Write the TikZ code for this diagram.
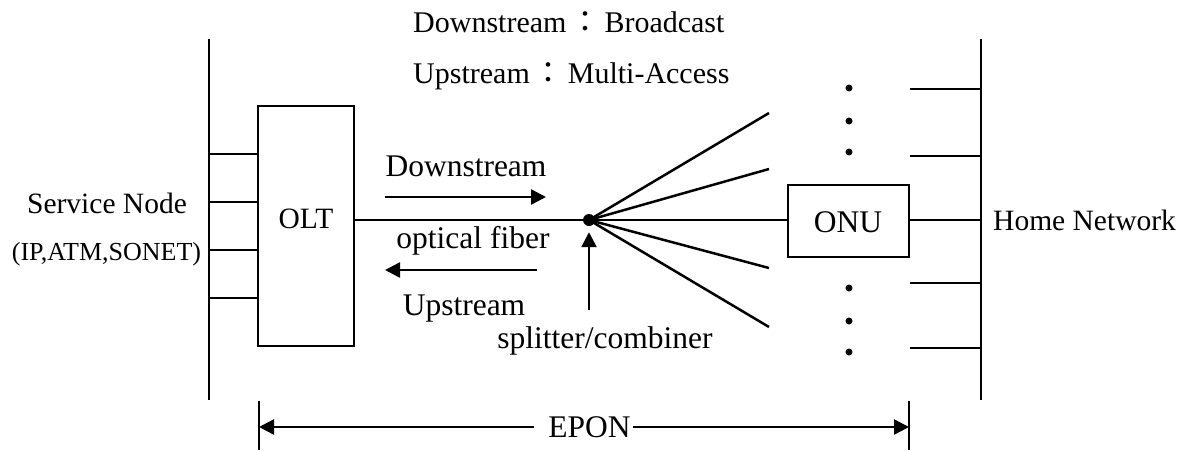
\documentclass[tikz,border=0pt]{standalone}
\usepackage{fontspec}
\setmainfont{Liberation Serif}
\newfontfamily\cjk{Noto Sans CJK TC}
\usetikzlibrary{arrows.meta}
\begin{document}
\begin{tikzpicture}[x=1pt,y=-1pt,
  wire/.style={line width=2.5pt},
  boxline/.style={draw,line width=2.2pt,inner sep=0pt},
  lbl/.style={font=\fontsize{31.5}{36}\selectfont,inner sep=0pt,anchor=base},
  mid/.style={font=\fontsize{29.5}{34}\selectfont,inner sep=0pt,anchor=base},
  small/.style={font=\fontsize{26}{30}\selectfont,inner sep=0pt,anchor=base},
  toplbl/.style={font=\fontsize{30}{34}\selectfont,inner sep=0pt,anchor=base west},
  tip/.style={-{Triangle[length=15pt,width=15pt]}},
  dot/.style={circle,fill,inner sep=0pt,minimum size=7pt}]
\useasboundingbox (0,0) rectangle (1185,450);

% top labels
\node[toplbl] (t1) at (413,32) {Downstream\kern4pt{\cjk ：}\kern4ptBroadcast};
\node[toplbl] (t2) at (413,83) {Upstream\kern4pt{\cjk ：}\kern4ptMulti-Access};

% left bus
\coordinate (lt) at (209,39);
\coordinate (lb) at (209,400);
\draw[wire] (lt) -- (lb);

% OLT
\node[boxline,minimum width=96pt,minimum height=240pt] (olt) at (306,226) {};
\node[mid] (oltt) at (306,228) {OLT};
\foreach \y [count=\i] in {154,202,250,298}{
  \coordinate (ls\i) at (209,\y);
  \draw[wire] (ls\i) -- (olt.west |- ls\i);
}
\node[mid] (sn) at (107,213) {Service Node};
\node[small] (snp) at (106.5,260) {(IP,ATM,SONET)};

% splitter
\node[circle,fill,inner sep=0pt,minimum size=12pt] (spl) at (589,220) {};
\draw[wire] (olt.east |- spl) -- (spl.center);

% ONU
\node[boxline,minimum width=121pt,minimum height=72pt] (onu) at (848.5,221) {};
\node[lbl] (onut) at (848,232) {ONU};
\draw[wire] (spl.center) -- (onu.west |- spl);

% fan
\coordinate (f1) at (769,113);
\coordinate (f2) at (769,169);
\coordinate (f3) at (769,268);
\coordinate (f4) at (769,327);
\foreach \f in {f1,f2,f3,f4}{ \draw[wire] (spl.center) -- (\f); }

% dots
\foreach \y [count=\i] in {88,121,152,288,321,352}{ \node[dot] (d\i) at (849,\y) {}; }

% right bus
\coordinate (rt) at (981,39);
\coordinate (rb) at (981,400);
\draw[wire] (rt) -- (rb);
\foreach \y [count=\i] in {89,156,283,348}{
  \coordinate (rs\i) at (910,\y);
  \draw[wire] (rs\i) -- (rb |- rs\i);
}
\draw[wire] (onu.east |- spl) -- (rb |- spl);
\node[mid,anchor=base west] (hn) at (993,230) {Home Network};

% downstream / upstream
\coordinate (ds1) at (385,197);
\coordinate (ds2) at (546,197);
\draw[wire,tip] (ds1) -- (ds2);
\coordinate (us1) at (537,270);
\coordinate (us2) at (385,270);
\draw[wire,tip] (us1) -- (us2);
\node[lbl] (dsl) at (466,176) {Downstream};
\node[lbl] (ofl) at (473,248) {optical fiber};
\node[lbl] (usl) at (464,315) {Upstream};

% splitter pointer
\node[lbl] (scl) at (605,348) {splitter/combiner};
\coordinate (sa) at (589,310);
\draw[wire,tip,shorten >=6pt] (sa) -- (spl.south);

% EPON
\coordinate (e1t) at (259,401);
\coordinate (e1b) at (259,450);
\coordinate (e2t) at (909,401);
\coordinate (e2b) at (909,450);
\draw[wire] (e1t) -- (e1b);
\draw[wire] (e2t) -- (e2b);
\node[lbl] (epon) at (589.5,437) {EPON};
\coordinate (ea) at (259,427);
\coordinate (eb) at (909,427);
\draw[wire,tip] (epon.west |- ea) ++(-14pt,0) -- (ea);
\draw[wire,tip] (epon.east |- eb) ++(2pt,0) -- (eb);
\end{tikzpicture}
\end{document}
